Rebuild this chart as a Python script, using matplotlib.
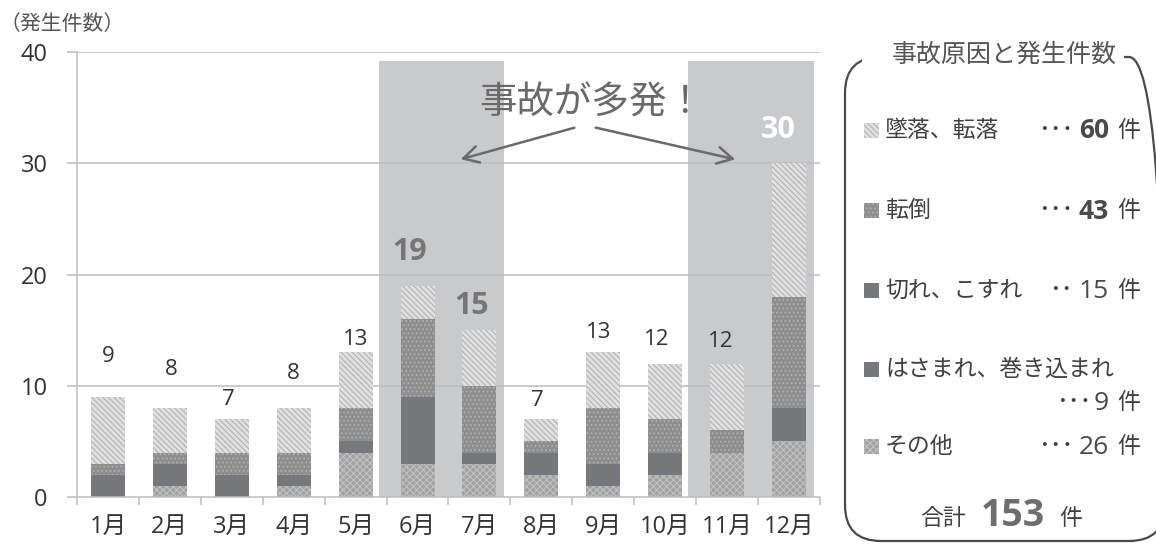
import matplotlib
matplotlib.use("Agg")
import matplotlib.pyplot as plt
from matplotlib.patches import Rectangle, FancyBboxPatch, FancyArrowPatch
from matplotlib.transforms import IdentityTransform
import numpy as np

plt.rcParams['font.family'] = ['Open Sans', 'Noto Sans CJK JP', 'DejaVu Sans']
plt.rcParams['hatch.linewidth'] = 0.7

# ---- data ----
months = ['1月', '2月', '3月', '4月', '5月', '6月', '7月', '8月', '9月', '10月', '11月', '12月']
sonota   = [0, 1, 0, 1, 4, 3, 3, 2, 1, 2, 4, 5]      # その他
hasamare = [0, 0, 1, 0, 0, 3, 0, 1, 1, 1, 0, 2]      # はさまれ、巻き込まれ
kire     = [2, 2, 1, 1, 1, 3, 1, 1, 1, 1, 0, 1]      # 切れ、こすれ
tentou   = [1, 1, 2, 2, 3, 7, 6, 1, 5, 3, 2, 10]     # 転倒
tsuiraku = [6, 4, 3, 4, 5, 3, 5, 2, 5, 5, 6, 12]     # 墜落、転落
highlight_months = ['6月', '11月']                   # start of each two-month highlight

cause_names = ['墜落、転落', '転倒', '切れ、こすれ', 'はさまれ、巻き込まれ', 'その他']
cause_values = [tsuiraku, tentou, kire, hasamare, sonota]

# ---- figure ----
W, H = 1156, 544
fig = plt.figure(figsize=(W / 100, H / 100), dpi=100)
fig.patch.set_facecolor('white')

def fx(x):
    return x / W

def fy(y):
    return 1 - y / H

ax = fig.add_axes([fx(77), fy(497), fx(820) - fx(77), fy(52) - fy(497)])
x = np.arange(len(months))
ax.set_xlim(-0.5, len(months) - 0.5)
ax.set_ylim(0, 40)

# highlighted periods
for m in highlight_months:
    i = months.index(m)
    ax.add_patch(Rectangle((i - 0.63, 0), 2.03, 39.2,
                           facecolor='#c9cacc', edgecolor='none', zorder=0.2))

# gridlines
for yv in [10, 20, 30, 40]:
    ax.axhline(yv, color='#bdbdbd', lw=1.1, zorder=0.5)

# stacked bars, bottom to top
styles = {
    'sonota':   dict(facecolor='#a2a2a2', edgecolor='#c4c4c4', hatch='xxxxx'),
    'hasamare': dict(facecolor='#77787b', edgecolor='#77787b', hatch=None),
    'kire':     dict(facecolor='#77787b', edgecolor='#77787b', hatch=None),
    'tentou':   dict(facecolor='#8e8e8e', edgecolor='#b2b2b2', hatch='....'),
    'tsuiraku': dict(facecolor='#e0e0e0', edgecolor='#acacac', hatch='\\\\\\\\\\\\'),
}
series = [('sonota', sonota), ('hasamare', hasamare), ('kire', kire),
          ('tentou', tentou), ('tsuiraku', tsuiraku)]
bottom = np.zeros(len(months))
bw = 0.55
for key, vals in series:
    v = np.array(vals, dtype=float)
    st = styles[key]
    ax.bar(x, v, bw, bottom=bottom, facecolor=st['facecolor'],
           edgecolor=st['edgecolor'], hatch=st['hatch'], linewidth=0, zorder=2)
    bottom += v

totals = bottom
# value labels above bars (offsets in data units)
label_dy = [3.6, 3.5, 1.8, 3.1, 1.2, 3.0, 2.2, 1.7, 1.8, 2.2, 2.0, 3.0]
label_dx = [0, 0.03, -0.05, 0, 0, -0.13, -0.13, -0.07, -0.07, -0.13, -0.1, -0.17]
for i, t in enumerate(totals):
    txt = f'{int(t)}'
    if months[i] in ('6月', '7月'):
        ax.text(i + label_dx[i], t + label_dy[i], txt, ha='center', va='center',
                fontsize=22, fontweight='bold', color='#767676', zorder=5)
    elif months[i] == '12月':
        ax.text(i + label_dx[i], t + label_dy[i], txt, ha='center', va='center',
                fontsize=22, fontweight='bold', color='white', zorder=5)
    else:
        ax.text(i + label_dx[i], t + label_dy[i], txt, ha='center', va='center',
                fontsize=16, color='#333333', zorder=5)

# axes styling
for s in ['top', 'right']:
    ax.spines[s].set_visible(False)
ax.spines['left'].set_color('#bdbdbd')
ax.spines['bottom'].set_color('#bdbdbd')
ax.spines['left'].set_linewidth(1.1)
ax.spines['bottom'].set_linewidth(1.1)
ax.spines['bottom'].set_zorder(3)
ax.set_yticks([0, 10, 20, 30, 40])
ax.tick_params(axis='y', length=7, width=1.1, color='#bdbdbd', labelsize=17,
               labelcolor='#333333', pad=14)
ax.set_xticks(x)
ax.set_xticklabels(months)
ax.tick_params(axis='x', which='major', length=0, labelsize=17,
               labelcolor='#333333', pad=13)
ax.set_xticks(np.arange(-0.5, len(months), 1.0), minor=True)
ax.tick_params(axis='x', which='minor', length=6, width=1.1, color='#bdbdbd')

fig.text(fx(0), fy(25), '（発生件数）', fontsize=15, color='#555555',
         ha='left', va='center')

# callout
fig.text(fx(592), fy(104), '事故が多発！', fontsize=27, color='#6a6a6a',
         ha='center', va='center')
for (x0, y0, x1, y1) in [(577, 127, 458, 160), (593, 127, 738, 160)]:
    arr = FancyArrowPatch((x0, H - y0), (x1, H - y1), transform=IdentityTransform(),
                          arrowstyle='->,head_length=11,head_width=6',
                          color='#6a6a6a', lw=1.8, mutation_scale=1)
    fig.add_artist(arr)

# ---- legend panel ----
box = FancyBboxPatch((845, H - 541), 320, 484,
                     boxstyle='round,pad=0,rounding_size=36',
                     transform=IdentityTransform(), facecolor='none',
                     edgecolor='#4a4a4a', lw=1.6)
fig.add_artist(box)
# gap in the top edge behind the title
fig.add_artist(Rectangle((862, H - 66), 262, 18, transform=IdentityTransform(),
                         facecolor='white', edgecolor='none'))
fig.text(fx(1004), fy(55), '事故原因と発生件数', fontsize=18, color='#555555',
         ha='center', va='center')

legend_keys = ['tsuiraku', 'tentou', 'kire', 'hasamare', 'sonota']
row_y = [131, 211, 291, 370, 447]
num_y = [131, 211, 291, 403, 447]
dots = ['･･･', '･･･', '･･', '･･･', '･･･']
bold_num = [True, True, False, False, False]
for k, name, vals, ry, ny, d, b in zip(legend_keys, cause_names, cause_values,
                                       row_y, num_y, dots, bold_num):
    st = styles[k]
    sq = Rectangle((864, H - ry - 7), 15, 15, transform=IdentityTransform(),
                   facecolor=st['facecolor'], edgecolor=st['edgecolor'],
                   hatch=st['hatch'], linewidth=0)
    fig.add_artist(sq)
    fig.text(fx(885), fy(ry), name, fontsize=16.5, color='#404040',
             ha='left', va='center')
    total = sum(vals)
    fig.text(fx(1109), fy(ny), f'{total}', fontsize=19,
             fontweight='bold' if b else 'normal', color='#4a4a4a',
             ha='right', va='center')
    num_w = 36 if total >= 10 else 18
    fig.text(fx(1109 - num_w), fy(ny), d, fontsize=17, color='#404040',
             ha='right', va='center')
    fig.text(fx(1117), fy(ny), '件', fontsize=16.5, color='#404040',
             ha='left', va='center')

grand_total = sum(sum(v) for v in cause_values)
fig.text(fx(966), fy(519), '合計', fontsize=16.5, color='#404040',
         ha='right', va='center')
fig.text(fx(1013), fy(516), f'{grand_total}', fontsize=27, fontweight='bold',
         color='#6e6e6e', ha='center', va='center')
fig.text(fx(1059), fy(519), '件', fontsize=16.5, color='#404040',
         ha='left', va='center')

fig.savefig('out.png', dpi=100)
